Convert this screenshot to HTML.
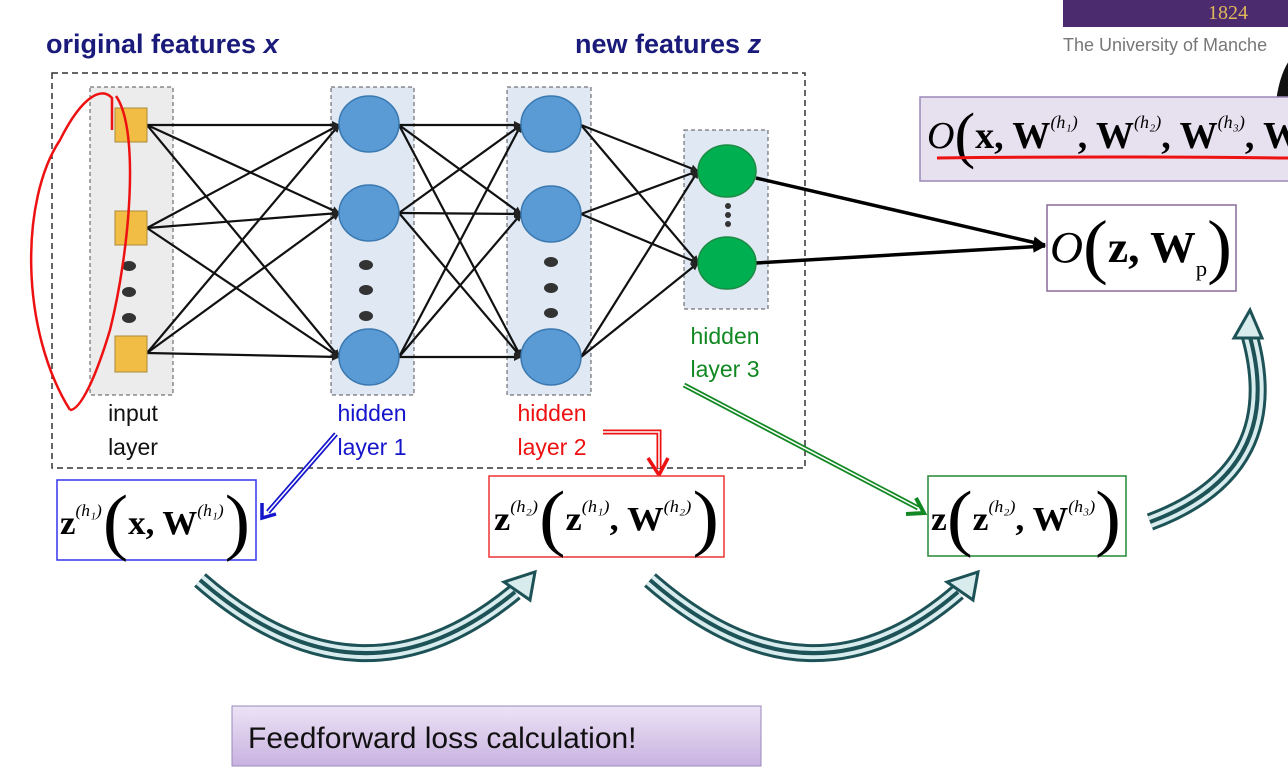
<!DOCTYPE html>
<html><head><meta charset="utf-8"><style>
html,body{margin:0;padding:0;background:#fff;width:1288px;height:770px;overflow:hidden}
svg{display:block}
.m{font-family:"Liberation Serif",serif;font-weight:bold;fill:#000}
.s{font-family:"Liberation Sans",sans-serif}
</style></head><body>
<svg width="1288" height="770" viewBox="0 0 1288 770" xmlns="http://www.w3.org/2000/svg">
<defs>
<marker id="ah" markerWidth="8" markerHeight="8" refX="7" refY="4" orient="auto" markerUnits="userSpaceOnUse"><path d="M0,0 L8,4 L0,8 Z" fill="#222"/></marker>
<marker id="ahb" markerWidth="14" markerHeight="14" refX="12" refY="7" orient="auto" markerUnits="userSpaceOnUse"><path d="M0,1 L13,7 L0,13 Z" fill="#000"/></marker>
<linearGradient id="pg" x1="0" y1="0" x2="0" y2="1"><stop offset="0" stop-color="#ece3f6"/><stop offset="1" stop-color="#c9b2e0"/></linearGradient>
</defs>

<rect x="1063" y="0" width="225" height="27" fill="#4b2a6e"/>
<text x="1208" y="19" font-family="Liberation Serif,serif" font-size="20" fill="#e0b85a">1824</text>
<text x="1063" y="51" class="s" font-size="18" fill="#777">The University of Manche</text>
<ellipse cx="1305" cy="120" rx="30" ry="70" fill="#111"/>

<text x="46" y="53" class="s" font-size="27" font-weight="bold" fill="#1a1a7a">original features <tspan font-style="italic">x</tspan></text>
<text x="575" y="53" class="s" font-size="27" font-weight="bold" fill="#1a1a7a">new features <tspan font-style="italic">z</tspan></text>

<rect x="52" y="73" width="753" height="395" fill="none" stroke="#333" stroke-width="1.5" stroke-dasharray="6,4"/>
<rect x="90" y="87" width="83" height="308" fill="#ececec" stroke="#555" stroke-dasharray="4,3"/>
<rect x="331" y="87" width="83" height="308" fill="#dfe8f3" stroke="#555" stroke-dasharray="4,3"/>
<rect x="507" y="87" width="84" height="308" fill="#dfe8f3" stroke="#555" stroke-dasharray="4,3"/>
<rect x="684" y="130" width="84" height="179" fill="#dfe8f3" stroke="#555" stroke-dasharray="4,3"/>

<g stroke="#111" stroke-width="2.2" marker-end="url(#ah)">
<line x1="147" y1="125" x2="339" y2="125"/><line x1="147" y1="125" x2="339" y2="213"/><line x1="147" y1="125" x2="339" y2="357"/>
<line x1="147" y1="228" x2="339" y2="125"/><line x1="147" y1="228" x2="339" y2="213"/><line x1="147" y1="228" x2="339" y2="357"/>
<line x1="147" y1="353" x2="339" y2="125"/><line x1="147" y1="353" x2="339" y2="213"/><line x1="147" y1="353" x2="339" y2="357"/>
<line x1="399" y1="125" x2="521" y2="125"/><line x1="399" y1="125" x2="521" y2="214"/><line x1="399" y1="125" x2="521" y2="357"/>
<line x1="399" y1="213" x2="521" y2="125"/><line x1="399" y1="213" x2="521" y2="214"/><line x1="399" y1="213" x2="521" y2="357"/>
<line x1="399" y1="357" x2="521" y2="125"/><line x1="399" y1="357" x2="521" y2="214"/><line x1="399" y1="357" x2="521" y2="357"/>
<line x1="581" y1="125" x2="698" y2="171"/><line x1="581" y1="125" x2="698" y2="263"/>
<line x1="581" y1="214" x2="698" y2="171"/><line x1="581" y1="214" x2="698" y2="263"/>
<line x1="581" y1="357" x2="698" y2="171"/><line x1="581" y1="357" x2="698" y2="263"/>
</g>
<g stroke="#000" stroke-width="3.5" marker-end="url(#ahb)">
<line x1="756" y1="178" x2="1045" y2="245"/><line x1="756" y1="263" x2="1045" y2="246"/>
</g>

<g fill="#f2bd45" stroke="#a98a3a"><rect x="115" y="108" width="32" height="34"/><rect x="115" y="211" width="32" height="34"/><rect x="115" y="336" width="32" height="36"/></g>
<g fill="#333"><ellipse cx="129" cy="266" rx="7" ry="5"/><ellipse cx="129" cy="292" rx="7" ry="5"/><ellipse cx="129" cy="318" rx="7" ry="5"/>
<ellipse cx="366" cy="265" rx="7" ry="5"/><ellipse cx="366" cy="290" rx="7" ry="5"/><ellipse cx="366" cy="316" rx="7" ry="5"/>
<ellipse cx="551" cy="262" rx="7" ry="5"/><ellipse cx="551" cy="288" rx="7" ry="5"/><ellipse cx="551" cy="313" rx="7" ry="5"/>
<circle cx="728" cy="206" r="3"/><circle cx="728" cy="215" r="3"/><circle cx="728" cy="224" r="3"/></g>
<g fill="#5b9bd5" stroke="#3a78b0" stroke-width="1.5">
<ellipse cx="369" cy="124" rx="30" ry="28"/><ellipse cx="369" cy="213" rx="30" ry="28"/><ellipse cx="369" cy="357" rx="30" ry="28"/>
<ellipse cx="551" cy="124" rx="30" ry="28"/><ellipse cx="551" cy="214" rx="30" ry="28"/><ellipse cx="551" cy="357" rx="30" ry="28"/></g>
<g fill="#00b050" stroke="#1d8a45" stroke-width="1.5"><ellipse cx="727" cy="171" rx="29" ry="26"/><ellipse cx="727" cy="263" rx="29" ry="26"/></g>

<g class="s" font-size="23" text-anchor="middle">
<text x="133" y="421" fill="#111">input</text><text x="133" y="455" fill="#111">layer</text>
<text x="372" y="421" fill="#1515cc">hidden</text><text x="372" y="455" fill="#1515cc">layer 1</text>
<text x="552" y="421" fill="#ee1111">hidden</text><text x="552" y="455" fill="#ee1111">layer 2</text>
<text x="725" y="344" fill="#118822">hidden</text><text x="725" y="377" fill="#118822">layer 3</text>
</g>

<g fill="none">
<path d="M336,434 L268,512" stroke="#1515cc" stroke-width="5"/><path d="M336,434 L268,512" stroke="#fff" stroke-width="1.5"/>
<path d="M262,503 L262,518 L276,514" stroke="#1515cc" stroke-width="3.5"/>
<path d="M603,432 L659,432 L659,468" stroke="#ee1111" stroke-width="5"/><path d="M603,432 L659,432 L659,468" stroke="#fff" stroke-width="1.5"/>
<path d="M648,458 L659,475 L668,458" stroke="#ee1111" stroke-width="3.5"/>
<path d="M684,385 L918,508" stroke="#118822" stroke-width="5"/><path d="M684,385 L918,508" stroke="#fff" stroke-width="1.5"/>
<path d="M906,514 L924,513 L916,498" stroke="#118822" stroke-width="4"/>
</g>

<rect x="57" y="480" width="199" height="80" fill="#fff" stroke="#3333ee" stroke-width="1.5"/>
<text class="m" x="60" y="534" font-size="34" textLength="190" lengthAdjust="spacingAndGlyphs">z<tspan font-size="17" dy="-18" font-style="italic" font-weight="normal">(h₁)</tspan><tspan font-size="74" font-weight="normal" dy="30" dx="1">(</tspan><tspan dy="-12">x, W</tspan><tspan font-size="17" dy="-18" font-style="italic" font-weight="normal">(h₁)</tspan><tspan font-size="74" font-weight="normal" dy="30" dx="1">)</tspan></text>

<rect x="489" y="476" width="235" height="81" fill="#fff" stroke="#ee3333" stroke-width="1.5"/>
<text class="m" x="494" y="530" font-size="34" textLength="225" lengthAdjust="spacingAndGlyphs">z<tspan font-size="17" dy="-18" font-style="italic" font-weight="normal">(h₂)</tspan><tspan font-size="74" font-weight="normal" dy="30" dx="1">(</tspan><tspan dy="-12">z</tspan><tspan font-size="17" dy="-18" font-style="italic" font-weight="normal">(h₁)</tspan><tspan dy="18">, W</tspan><tspan font-size="17" dy="-18" font-style="italic" font-weight="normal">(h₂)</tspan><tspan font-size="74" font-weight="normal" dy="30" dx="1">)</tspan></text>

<rect x="928" y="476" width="198" height="80" fill="#fff" stroke="#228833" stroke-width="1.5"/>
<text class="m" x="931" y="530" font-size="34" textLength="190" lengthAdjust="spacingAndGlyphs">z<tspan font-size="74" font-weight="normal" dy="12">(</tspan><tspan dy="-12">z</tspan><tspan font-size="17" dy="-18" font-style="italic" font-weight="normal">(h₂)</tspan><tspan dy="18">, W</tspan><tspan font-size="17" dy="-18" font-style="italic" font-weight="normal">(h₃)</tspan><tspan font-size="74" font-weight="normal" dy="30">)</tspan></text>

<rect x="1047" y="205" width="189" height="86" fill="#fff" stroke="#8a6a9a" stroke-width="1.5"/>
<text class="m" x="1050" y="262" font-size="44" textLength="182" lengthAdjust="spacingAndGlyphs"><tspan font-style="italic" font-weight="normal">O</tspan><tspan font-size="72" font-weight="normal" dy="8">(</tspan><tspan dy="-8">z, W</tspan><tspan font-size="22" font-weight="normal" dy="14">p</tspan><tspan font-size="72" font-weight="normal" dy="-6">)</tspan></text>

<rect x="920" y="97" width="380" height="84" fill="#e6e0ef" stroke="#9a88b8" stroke-width="1.5"/>
<text class="m" x="927" y="148" font-size="38"><tspan font-style="italic" font-weight="normal">O</tspan><tspan font-size="62" font-weight="normal" dy="8">(</tspan><tspan dy="-8">x, W</tspan><tspan font-size="18" dy="-20" font-style="italic" font-weight="normal">(h₁)</tspan><tspan dy="20">, W</tspan><tspan font-size="18" dy="-20" font-style="italic" font-weight="normal">(h₂)</tspan><tspan dy="20">, W</tspan><tspan font-size="18" dy="-20" font-style="italic" font-weight="normal">(h₃)</tspan><tspan dy="20">, W</tspan></text>
<path d="M937,158 Q1100,156 1288,158" stroke="#ee1111" stroke-width="3" fill="none"/>

<g fill="none" stroke-linecap="butt">
<g stroke="#1d5257" stroke-width="18">
<path d="M200,580 Q360,720 515,592"/><path d="M650,580 Q810,720 958,592"/><path d="M1150,522 Q1290,470 1248,330"/></g>
<g stroke="#d8ecee" stroke-width="12">
<path d="M200,580 Q360,720 515,592"/><path d="M650,580 Q810,720 958,592"/><path d="M1150,522 Q1290,470 1248,330"/></g>
<g stroke="#1d5257" stroke-width="4">
<path d="M200,580 Q360,720 515,592"/><path d="M650,580 Q810,720 958,592"/><path d="M1150,522 Q1290,470 1248,330"/></g>
<g stroke="#1d5257" stroke-width="3" fill="#d8ecee">
<path d="M504,582 L535,572 L530,600 Z"/><path d="M947,582 L978,572 L973,600 Z"/><path d="M1234,338 L1250,310 L1262,338 Z"/></g>
</g>

<rect x="232" y="706" width="529" height="60" fill="url(#pg)" stroke="#9a88b8"/>
<text x="248" y="748" class="s" font-size="30" fill="#111">Feedforward loss calculation!</text>

<path d="M70,410 C20,330 20,200 60,140 C80,100 100,85 112,98 L112,130 M116,96 C140,130 130,250 110,330 C95,380 80,410 70,410" fill="none" stroke="#ee1111" stroke-width="2.5"/>
</svg>
</body></html>
